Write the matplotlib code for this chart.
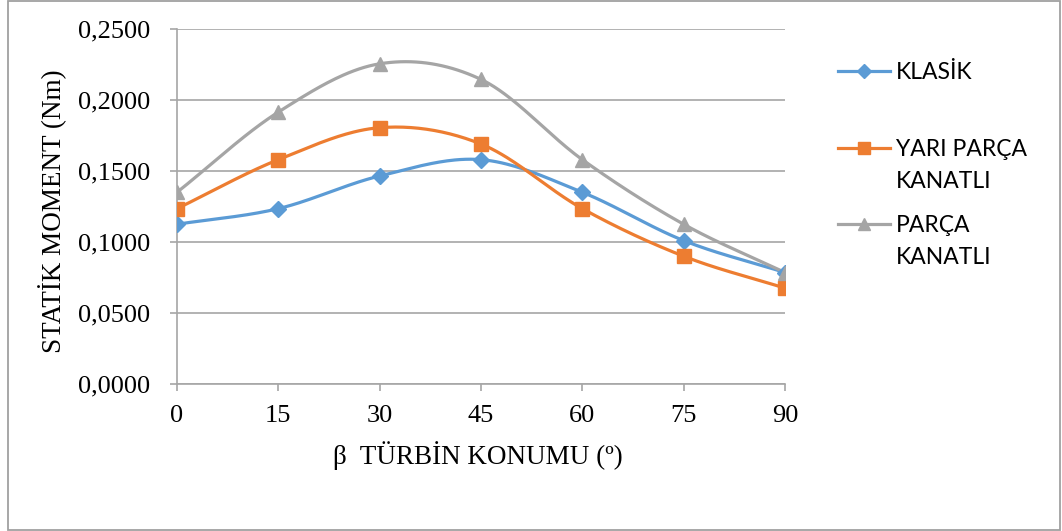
import numpy as np
import matplotlib
matplotlib.use("Agg")
import matplotlib.pyplot as plt
from matplotlib.lines import Line2D
from matplotlib.patches import Rectangle

# data
beta = [0, 15, 30, 45, 60, 75, 90]
klasik = [0.1125, 0.1235, 0.1465, 0.1580, 0.1350, 0.1010, 0.0785]
yari_parca = [0.1235, 0.1580, 0.1805, 0.1690, 0.1235, 0.0900, 0.0675]
parca = [0.1350, 0.1915, 0.2255, 0.2145, 0.1580, 0.1125, 0.0785]
yticks = [0.0, 0.05, 0.10, 0.15, 0.20, 0.25]
ytick_labels = ["0,0000", "0,0500", "0,1000", "0,1500", "0,2000", "0,2500"]

series = [
    ("KLASİK", klasik, "#5B9BD5", "D", 8),
    ("YARI PARÇA\nKANATLI", yari_parca, "#ED7D31", "s", 9.5),
    ("PARÇA\nKANATLI", parca, "#A5A5A5", "^", 10),
]


def smooth(x, y, n=40):
    # Excel-style smoothed line (Catmull-Rom through the data points)
    x = np.asarray(x, float)
    y = np.asarray(y, float)
    px = np.concatenate([[2 * x[0] - x[1]], x, [2 * x[-1] - x[-2]]])
    py = np.concatenate([[2 * y[0] - y[1]], y, [2 * y[-1] - y[-2]]])
    xs, ys = [], []
    for i in range(1, len(px) - 2):
        t = np.linspace(0, 1, n)
        for arr, out in ((px, xs), (py, ys)):
            p0, p1, p2, p3 = arr[i - 1], arr[i], arr[i + 1], arr[i + 2]
            out.extend(0.5 * (2 * p1 + (-p0 + p2) * t
                              + (2 * p0 - 5 * p1 + 4 * p2 - p3) * t ** 2
                              + (-p0 + 3 * p1 - 3 * p2 + p3) * t ** 3))
    return np.array(xs), np.array(ys)


serif = ["Liberation Serif", "DejaVu Serif"]
sans = ["Lato", "DejaVu Sans"]
grid_c = "#A6A6A6"

fig = plt.figure(figsize=(10.62, 5.31), dpi=100)
fig.add_artist(Rectangle((8 / 1062, 1 - 530 / 531), 1052 / 1062, 529 / 531,
                         transform=fig.transFigure, fill=False,
                         edgecolor="#A0A0A0", linewidth=1.3))

ax = fig.add_axes([177 / 1062, 1 - 384 / 531, 608 / 1062, 355 / 531])

for label, vals, color, marker, ms in series:
    sx, sy = smooth(beta, vals)
    ax.plot(sx, sy, color=color, linewidth=2.3, zorder=3)
    ax.plot(beta, vals, linestyle="none", marker=marker, markersize=ms,
            color=color, zorder=4)

ax.set_xlim(0, 90)
ax.set_ylim(0, 0.25)
ax.set_xticks(beta)
ax.set_xticklabels([str(b) for b in beta], fontfamily=serif, fontsize=19)
ax.set_yticks(yticks)
ax.set_yticklabels(ytick_labels, fontfamily=serif, fontsize=19)
ax.grid(axis="y", color=grid_c, linewidth=1.2)
ax.set_axisbelow(True)
for side in ("top", "right"):
    ax.spines[side].set_visible(False)
for side in ("left", "bottom"):
    ax.spines[side].set_color(grid_c)
    ax.spines[side].set_linewidth(1.2)
ax.tick_params(axis="both", direction="out", length=5, color=grid_c,
               width=1.2, pad=10)
ax.tick_params(axis="y", pad=14)
ax.margins(0)
for t in ax.get_xticklabels() + ax.get_yticklabels():
    t.set_clip_on(False)

ax.set_xlabel("β  TÜRBİN KONUMU (º)", fontfamily=serif, fontsize=19.5)
ax.set_ylabel("STATİK MOMENT (Nm)", fontfamily=serif, fontsize=19.5,
              ha="center", va="center")
ax.xaxis.set_label_coords((478 - 177) / 608, (384 - 441) / 355)
ax.yaxis.set_label_coords((53 - 177) / 608, (384 - 211) / 355)

# legend drawn by hand to match the spacing of the original
leg_y = [71, 148, 224]
line_gap = 32
for (label, vals, color, marker, ms), yp in zip(series, leg_y):
    yf = 1 - yp / 531
    fig.add_artist(Line2D([838 / 1062, 890 / 1062], [yf, yf],
                          transform=fig.transFigure, color=color,
                          linewidth=2.3))
    fig.add_artist(Line2D([864 / 1062], [yf], transform=fig.transFigure,
                          color=color, marker=marker, markersize=ms - 1,
                          linestyle="none"))
    # one text per line so each baseline sits where the original has it
    for k, part in enumerate(label.split("\n")):
        fig.text(896 / 1062, 1 - (yp + 8 + k * line_gap) / 531, part,
                 fontfamily=sans, fontsize=16.5, va="baseline", ha="left")

fig.savefig("out.png", dpi=100)
